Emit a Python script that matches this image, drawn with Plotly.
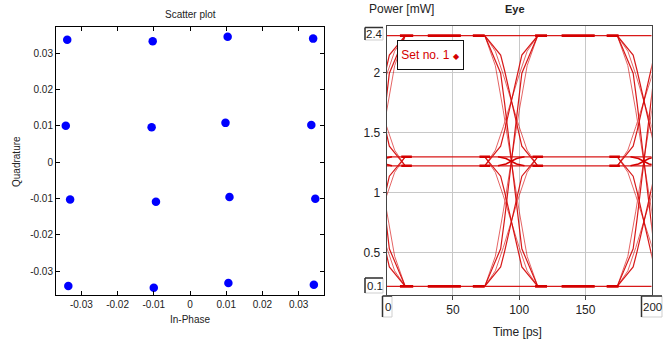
import plotly.graph_objects as go

W, H = 665, 345


def px(x):
    return x / W


def py(y):
    return 1 - y / H


# ---------------- Scatter plot (constellation) data ----------------
const_i = [-0.0339, -0.0103, 0.0104, 0.0340,
           -0.0343, -0.0106, 0.0098, 0.0335,
           -0.0331, -0.0094, 0.0109, 0.0346,
           -0.0336, -0.0100, 0.0106, 0.0342]
const_q = [0.0337, 0.0333, 0.0345, 0.0340,
           0.0100, 0.0096, 0.0108, 0.0102,
           -0.0103, -0.0109, -0.0096, -0.0101,
           -0.0341, -0.0346, -0.0333, -0.0338]
sc_ticks = [-0.03, -0.02, -0.01, 0, 0.01, 0.02, 0.03]
sc_ticktext = ["-0.03", "-0.02", "-0.01", "0", "0.01", "0.02", "0.03"]

# ---------------- Eye diagram data ----------------
lvl = {"H": 2.31, "Mhi": 1.30, "Mlo": 1.225, "L": 0.22}
cross_t = [-6, 94, 194]
prof_a_dt = [-20, -8, -5, 0, 5, 8, 20]
prof_a_p = [0, 0.15, 0.27, 0.5, 0.73, 0.85, 1]
prof_b_dt = [-20, -12, -6, 0, 6, 12, 20]
prof_b_p = [0, 0.12, 0.30, 0.5, 0.70, 0.88, 1]
prof_m_dt = [-10, -4, 0, 4, 10]
prof_m_p = [0, 0.2, 0.5, 0.8, 1]
transitions = [("H", "L"), ("L", "H"), ("H", "Mlo"), ("Mlo", "H"),
               ("L", "Mhi"), ("Mhi", "L")]
mid_transitions = [("Mhi", "Mlo"), ("Mlo", "Mhi")]
edge_bars = [(10, 20), (31, 56), (65, 74), (112, 121), (132, 157), (166, 175)]
mid_bars = [(11, 19), (70, 78), (110, 118), (168, 176)]
eye_xticks = [50, 100, 150]
eye_yticks = [0.5, 1, 1.5, 2]
eye_yticktext = ["0.5", "1", "1.5", "2"]


def seg(a, b, tc, dts, ps):
    return [tc + d for d in dts], [a + (b - a) * p for p in ps]


a_x, a_y, b_x, b_y = [], [], [], []
for tc in cross_t:
    for a, b in transitions:
        xs, ys = seg(lvl[a], lvl[b], tc, prof_a_dt, prof_a_p)
        a_x += xs + [None]
        a_y += ys + [None]
        xs, ys = seg(lvl[a], lvl[b], tc, prof_b_dt, prof_b_p)
        b_x += xs + [None]
        b_y += ys + [None]
for name in ("H", "Mhi", "Mlo", "L"):
    a_x += [0, 200, None]
    a_y += [lvl[name], lvl[name], None]

mid_x, mid_y = [], []
for tc in cross_t:
    for a, b in mid_transitions:
        xs, ys = seg(lvl[a], lvl[b], tc, prof_m_dt, prof_m_p)
        mid_x += xs + [None]
        mid_y += ys + [None]

thick_x, thick_y = [], []
for name in ("H", "L"):
    for t0, t1 in edge_bars:
        thick_x += [t0, t1, None]
        thick_y += [lvl[name], lvl[name], None]
for name in ("Mhi", "Mlo"):
    for t0, t1 in mid_bars:
        thick_x += [t0, t1, None]
        thick_y += [lvl[name], lvl[name], None]

RED = "rgb(212,0,0)"
FONT = "Liberation Sans, Arial, sans-serif"

fig = go.Figure()

fig.add_trace(go.Scatter(
    x=const_i, y=const_q, mode="markers",
    marker=dict(color="#0000ff", size=8.5, line=dict(width=0)),
    xaxis="x", yaxis="y", showlegend=False, hoverinfo="skip"))

fig.add_trace(go.Scatter(
    x=b_x, y=b_y, mode="lines",
    line=dict(color=RED, width=1), opacity=0.6,
    xaxis="x2", yaxis="y2", showlegend=False, hoverinfo="skip"))
fig.add_trace(go.Scatter(
    x=a_x, y=a_y, mode="lines",
    line=dict(color=RED, width=1.2), opacity=0.9,
    xaxis="x2", yaxis="y2", showlegend=False, hoverinfo="skip"))
fig.add_trace(go.Scatter(
    x=mid_x, y=mid_y, mode="lines",
    line=dict(color=RED, width=1.6),
    xaxis="x2", yaxis="y2", showlegend=False, hoverinfo="skip"))
fig.add_trace(go.Scatter(
    x=thick_x, y=thick_y, mode="lines",
    line=dict(color=RED, width=2.6),
    xaxis="x2", yaxis="y2", showlegend=False, hoverinfo="skip"))

fig.update_layout(
    width=W, height=H,
    margin=dict(l=0, r=0, t=0, b=0),
    paper_bgcolor="white", plot_bgcolor="white",
    hovermode=False,
    font=dict(family=FONT, size=10, color="#222"),
    xaxis=dict(domain=[px(56), px(324)], range=[-0.037, 0.037],
               tickvals=sc_ticks, ticktext=sc_ticktext,
               ticks="inside", ticklen=4, tickcolor="black",
               showline=True, linecolor="black", linewidth=1, mirror="ticks",
               showgrid=False, zeroline=False,
               tickfont=dict(size=10, family=FONT, color="#222")),
    yaxis=dict(domain=[py(295), py(27)], range=[-0.0366, 0.0372],
               tickvals=sc_ticks, ticktext=sc_ticktext,
               ticks="inside", ticklen=4, tickcolor="black",
               showline=True, linecolor="black", linewidth=1, mirror="ticks",
               showgrid=False, zeroline=False,
               tickfont=dict(size=10, family=FONT, color="#222")),
    xaxis2=dict(domain=[px(386.7), px(651.7)], range=[0, 200], anchor="y2",
                tickvals=eye_xticks, ticks="outside", ticklen=4,
                tickcolor="#444", showline=True, linecolor="#444",
                linewidth=1, mirror=True, showgrid=True,
                gridcolor="#c8c8c8", gridwidth=1, zeroline=False,
                tickfont=dict(size=12, family=FONT, color="#222")),
    yaxis2=dict(domain=[py(295), py(26)], range=[0.148, 2.39], anchor="x2",
                tickvals=eye_yticks, ticktext=eye_yticktext,
                ticks="outside", ticklen=3, tickcolor="#444",
                showline=True, linecolor="#444", linewidth=1, mirror=True,
                showgrid=True, gridcolor="#c8c8c8", gridwidth=1,
                zeroline=False,
                tickfont=dict(size=12, family=FONT, color="#222")),
)

ann = []


def add_text(text, x, y, size, color="#222", **kw):
    d = dict(text=text, x=px(x), y=py(y), xref="paper", yref="paper",
             showarrow=False, xanchor="center", yanchor="middle",
             font=dict(size=size, family=FONT, color=color))
    d.update(kw)
    ann.append(d)


# Scatter plot texts
add_text("Scatter plot", 190, 14.5, 10)
add_text("In-Phase", 190, 319.5, 10)
add_text("Quadrature", 17, 162, 10, textangle=-90)
# Eye texts
add_text("Power [mW]", 401.7, 8.5, 12)
add_text("<b>Eye</b>", 515, 9, 11)
add_text("Time [ps]", 517, 331.5, 12)
# Legend box
add_text("Set no. 1 <span style='font-size:8px'>◆</span>", 430, 55.4, 12,
         color=RED, width=65, height=28, borderpad=0, bgcolor="white",
         bordercolor="#111", borderwidth=1)

shapes = []
boxes = [("2.4", 365, 383, 27.5, 40), ("0.1", 365, 383, 278, 293),
         ("0", 382.5, 392, 296, 317), ("200", 641.5, 662, 296, 317)]
for label, x0, x1, y0, y1 in boxes:
    shapes.append(dict(type="rect", xref="paper", yref="paper",
                       x0=px(x0), x1=px(x1), y0=py(y1), y1=py(y0),
                       line=dict(color="#cfcfcf", width=1),
                       fillcolor="white", layer="above"))
    shapes.append(dict(type="line", xref="paper", yref="paper",
                       x0=px(x0), x1=px(x0), y0=py(y1), y1=py(y0),
                       line=dict(color="#333", width=1.5), layer="above"))
    shapes.append(dict(type="line", xref="paper", yref="paper",
                       x0=px(x0), x1=px(x1), y0=py(y0), y1=py(y0),
                       line=dict(color="#333", width=1.5), layer="above"))
    add_text(label, (x0 + x1) / 2 + 0.7, (y0 + y1) / 2 + 0.5, 11.5)

fig.update_layout(annotations=ann, shapes=shapes)

fig.write_html(
    "out.html",
    config={"displayModeBar": False, "staticPlot": True},
    post_script="document.body.style.margin='0';"
                "document.body.style.padding='0';"
                "document.body.style.overflow='hidden';")
